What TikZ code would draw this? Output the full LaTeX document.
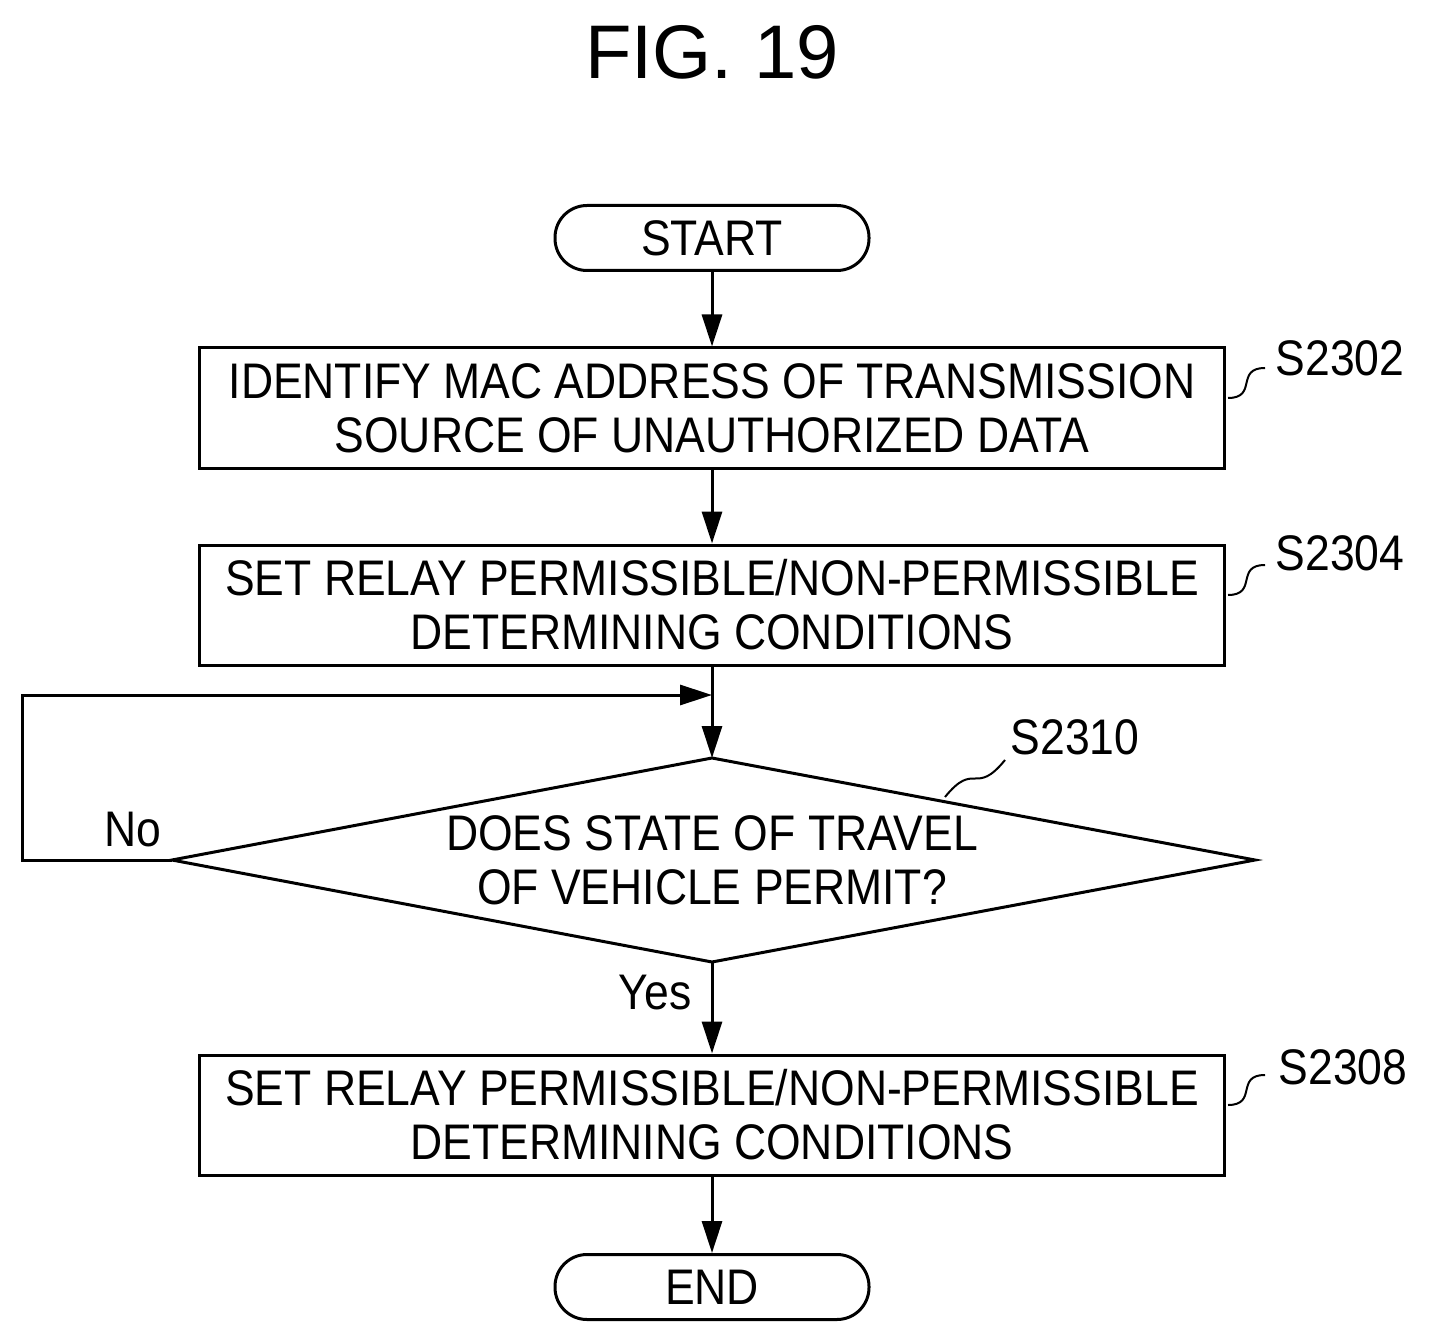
\documentclass[tikz,border=0pt]{standalone}
\usepackage{fontspec}
\setmainfont{Liberation Sans}
\newfontfamily\pf[FakeStretch=0.89]{Liberation Sans}
\usetikzlibrary{shapes.geometric,arrows.meta}
\begin{document}
\begin{tikzpicture}[x=0.5pt,y=-0.5pt,
  every node/.style={font=\pf\fontsize{25}{27}\selectfont},
  box/.style={draw,line width=1.5pt,minimum width=512.5pt,minimum height=60pt,align=center,inner sep=0pt},
  term/.style={draw,line width=1.5pt,rounded corners=16pt,minimum width=157pt,minimum height=32.5pt,inner sep=0pt},
  arr/.style={line width=1.5pt,-{Triangle[length=16pt,width=10pt]}},
  sq/.style={line width=1pt}]
\useasboundingbox (0,0) rectangle (1434,1342);
\node[font=\fontsize{38}{40}\selectfont] (fig) at (712,52) {FIG. 19};
\node[term] (start) at (712,238) {START};
\node[box] (b1) at (712,408) {IDENTIFY MAC ADDRESS OF TRANSMISSION\\SOURCE OF UNAUTHORIZED DATA};
\node[box] (b2) at (712,605) {SET RELAY PERMISSIBLE/NON-PERMISSIBLE\\DETERMINING CONDITIONS};
\coordinate (dt) at (712,758); \coordinate (db) at (712,962);
\coordinate (dl) at (172,860); \coordinate (dr) at (1255,860);
\draw[line width=1.5pt] (dt)--(dr)--(db)--(dl)--cycle;
\node[align=center] (dtext) at (712,860) {DOES STATE OF TRAVEL\\OF VEHICLE PERMIT?};
\node[box] (b3) at (712,1115) {SET RELAY PERMISSIBLE/NON-PERMISSIBLE\\DETERMINING CONDITIONS};
\node[term] (end) at (712,1287) {END};
\draw[arr] (start)--(b1);
\draw[arr] (b1)--(b2);
\draw[arr] (b2)--(dt);
\coordinate (l1) at (22,860); \coordinate (l2) at (22,695); \coordinate (l3) at (712,695);
\draw[arr] (dl)--(l1)--(l2)--(l3);
\draw[arr] (db)--(b3);
\draw[arr] (b3)--(end);
\node (no) at (133,830) {No};
\node (yes) at (655,993) {Yes};
\node (s1) at (1340,358) {S2302};
\node (s2) at (1340,553) {S2304};
\node (s3) at (1075,737) {S2310};
\node (s4) at (1343,1067) {S2308};
\coordinate (q1a) at (1228,398); \coordinate (q1b) at (1265,368);
\coordinate (q2a) at (1228,595); \coordinate (q2b) at (1265,565);
\coordinate (q3a) at (945,797); \coordinate (q3b) at (1005,760);
\coordinate (q4a) at (1228,1105); \coordinate (q4b) at (1265,1075);
\draw[sq] (q1a) .. controls (1258,398) and (1235,368) .. (q1b);
\draw[sq] (q2a) .. controls (1258,595) and (1235,565) .. (q2b);
\draw[sq] (q3a) .. controls (975,760) and (975,797) .. (q3b);
\draw[sq] (q4a) .. controls (1258,1105) and (1235,1075) .. (q4b);
\end{tikzpicture}
\end{document}
